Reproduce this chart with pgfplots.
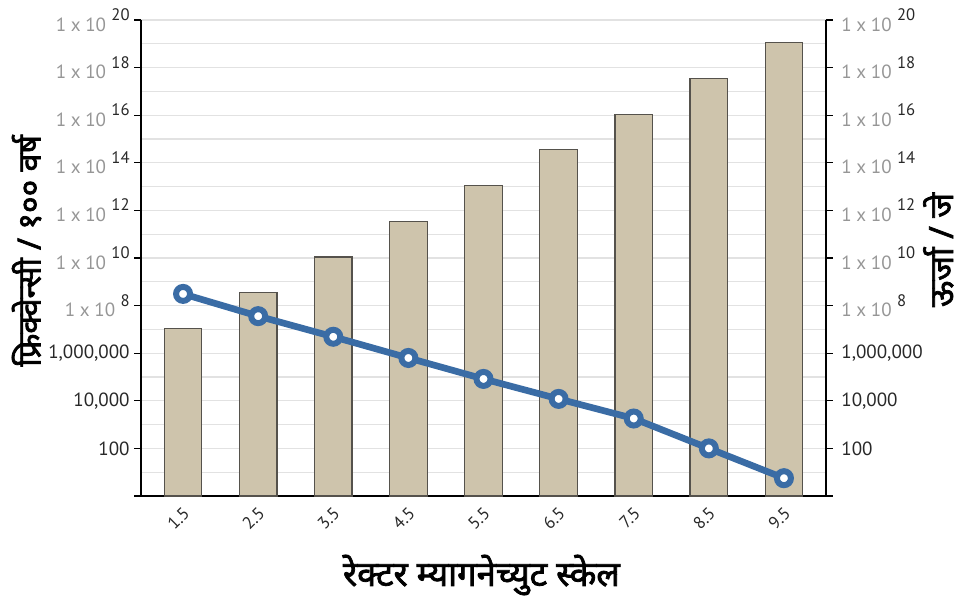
\documentclass[border=0pt]{standalone}
\usepackage{fontspec}
\setmainfont{PT Sans}
\newfontfamily\devfont[Script=Devanagari, FakeBold=2.2]{Noto Sans}
\usepackage{pgfplots}
\pgfplotsset{compat=1.18}

\definecolor{bartan}{RGB}{206,196,172}
\definecolor{baredge}{RGB}{85,82,76}
\definecolor{lineblue}{RGB}{58,108,165}
\definecolor{tickgray}{RGB}{150,150,150}
\definecolor{gridgray}{RGB}{226,226,226}
\definecolor{numdark}{RGB}{40,40,40}

% "1 x 10^n" tick label: base in gray, exponent in black
\newcommand{\pw}[1]{\textcolor{tickgray}{1\hspace{3.5pt}x\hspace{3.5pt}10}\hspace{4pt}\raisebox{8pt}{\fontsize{12.5}{14}\selectfont #1}}

\begin{document}
\begin{tikzpicture}
\begin{axis}[
  scale only axis,
  width=513.75pt, height=357pt,
  at={(105.75pt,75pt)}, anchor=south west,
  xmin=0.94, xmax=10.06,
  ymode=log, log basis y=10,
  ymin=1, ymax=1e20,
  ytick={1,1e2,1e4,1e6,1e8,1e10,1e12,1e14,1e16,1e18,1e20},
  yticklabels={{}, {100}, {10,000}, {1,000,000}, \pw{8}, \pw{10}, \pw{12}, \pw{14}, \pw{16}, \pw{18}, \pw{20}},
  yticklabel style={font=\fontsize{14.3}{16}\selectfont, text=numdark},
  tick align=outside,
  major tick length=5pt,
  tick style={black, line width=0.8pt},
  axis line style={black, line width=1pt},
  axis x line*=bottom, axis y line*=left,
  xtick={1.5,2.5,...,9.5},
  xticklabels={1.5,2.5,3.5,4.5,5.5,6.5,7.5,8.5,9.5},
  xtick style={draw=none},
  xticklabel style={rotate=45, anchor=east, font=\fontsize{13}{15}\selectfont, text=numdark, yshift=-6pt, xshift=1pt},
  minor ytick={1e1,1e3,1e5,1e7,1e9,1e11,1e13,1e15,1e17,1e19},
  minor tick length=0pt,
  ymajorgrids, yminorgrids,
  major grid style={gridgray, line width=0.8pt},
  minor grid style={gridgray, line width=0.8pt},
  clip=false,
  xlabel={\devfont रेक्टर म्यागनेच्युट स्केल},
  xlabel style={at={(axis description cs:0.497,-0.166)}, anchor=center, font=\fontsize{26}{30}\selectfont},
  ylabel={\devfont फ्रिक्वेन्सी / १०० वर्ष},
  ylabel style={at={(axis description cs:-0.167,0.515)}, anchor=center, font=\fontsize{24}{28}\selectfont},
]
% energy release (J) per magnitude
\addplot[ybar, bar width=0.5, fill=bartan, draw=baredge, line width=0.9pt] coordinates {
  (1.5,1.1e7) (2.5,3.5e8) (3.5,1.1e10) (4.5,3.5e11) (5.5,1.1e13)
  (6.5,3.5e14) (7.5,1.1e16) (8.5,3.5e17) (9.5,1.1e19)
};
% frequency per 100 years
\addplot[color=lineblue, line width=5pt, mark=*, mark size=5.25pt,
  mark options={fill=white, draw=lineblue, line width=4.5pt}] coordinates {
  (1.5,3.1e8) (2.5,3.6e7) (3.5,4.9e6) (4.5,6.3e5) (5.5,8.3e4)
  (6.5,1.2e4) (7.5,1.8e3) (8.5,100) (9.5,5.6)
};
\end{axis}
\begin{axis}[
  scale only axis,
  width=513.75pt, height=357pt,
  at={(105.75pt,75pt)}, anchor=south west,
  xmin=0.94, xmax=10.06,
  ymode=log, log basis y=10,
  ymin=1, ymax=1e20,
  ytick={1,1e2,1e4,1e6,1e8,1e10,1e12,1e14,1e16,1e18,1e20},
  yticklabels={{}, {100}, {10,000}, {1,000,000}, \pw{8}, \pw{10}, \pw{12}, \pw{14}, \pw{16}, \pw{18}, \pw{20}},
  yticklabel style={font=\fontsize{14.3}{16}\selectfont, text=numdark, xshift=3pt},
  tick align=outside,
  major tick length=5pt,
  tick style={black, line width=0.8pt},
  axis line style={black, line width=1pt},
  axis x line=none, axis y line*=right,
  ylabel={\devfont ऊर्जा / जे},
  ylabel style={at={(axis description cs:1.164,0.517)}, anchor=center, font=\fontsize{25}{28}\selectfont},
]
\addplot[draw=none] coordinates {(1.5,1)};
\end{axis}
\pgfresetboundingbox
\path[use as bounding box] (0,0) rectangle (723.75pt,447pt);
\end{tikzpicture}
\end{document}
